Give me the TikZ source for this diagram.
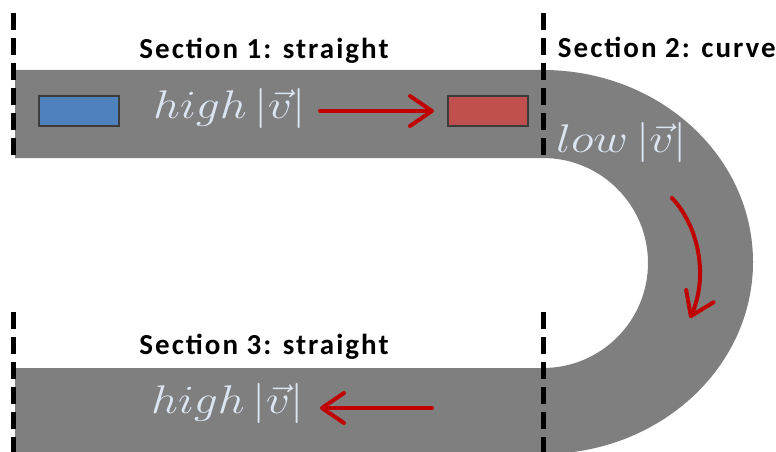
\documentclass[tikz,border=0pt]{standalone}
\usepackage{fix-cm}
\usepackage{fontspec}
\newfontfamily\labelfont[LetterSpace=7]{Carlito}
\usetikzlibrary{arrows.meta}

\definecolor{road}{RGB}{127,127,127}
\definecolor{speedtxt}{RGB}{220,230,242}
\definecolor{arrowred}{RGB}{192,0,0}
\definecolor{carblue}{RGB}{79,129,189}
\definecolor{carred}{RGB}{192,80,77}
\definecolor{carrim}{RGB}{60,60,60}

\newcommand{\speed}[1]{\scalebox{1.19}[1]{$#1\,|\vec{v}|$}}

\tikzset{
  boundary/.style={black, line width=5pt, dash pattern=on 17pt off 8pt},
  sectionlabel/.style={inner sep=0pt, font=\labelfont\bfseries\fontsize{29}{34}\selectfont},
  speedlabel/.style={anchor=base west, inner sep=0pt, text=speedtxt, font=\fontsize{40}{46}\selectfont},
  car/.style={draw=carrim, line width=2pt, minimum width=80pt, minimum height=30pt, inner sep=0pt},
  motion/.style={arrowred, line width=4pt, line cap=round,
    -{Straight Barb[length=22pt, width=30pt, line width=4pt, round]}}
}

\begin{document}
\begin{tikzpicture}[x=1pt, y=-1pt]
  \useasboundingbox (0,0) rectangle (776,452);
  \clip (0,0) rectangle (776,452);

  % the U-shaped road: two straights joined by a half turn
  \fill[road] (15,70) -- (543,70)
    arc[start angle=-90, end angle=90, x radius=210, y radius=192]
    -- (15,454) -- (15,368) -- (543,368)
    arc[start angle=90, end angle=-90, radius=105]
    -- (15,158) -- cycle;

  % section boundaries
  \coordinate (b1t) at (13,13);  \coordinate (b1b) at (13,158);
  \coordinate (b2t) at (543,13); \coordinate (b2b) at (543,158);
  \coordinate (b3t) at (13,312); \coordinate (b3b) at (13,452);
  \coordinate (b4t) at (543,312);\coordinate (b4b) at (543,452);
  \draw[boundary] (b1t) -- (b1b);
  \draw[boundary] (b2t) -- (b2b);
  \draw[boundary] (b3t) -- (b3b);
  \draw[boundary] (b4t) -- (b4b);

  % section titles
  \node[sectionlabel, anchor=base] (s1) at (264,59) {Section 1: straight};
  \node[sectionlabel, anchor=base east] (s2) at (776,58) {Section 2: curve};
  \node[sectionlabel, anchor=base] (s3) at (264,354) {Section 3: straight};

  % cars
  \node[car, fill=carblue] (carA) at (79,111) {};
  \node[car, fill=carred]  (carB) at (488,111) {};

  % speed annotations
  \node[speedlabel] (v1) at (153,118) {\speed{high}};
  \node[speedlabel] (v2) at (556,152) {\speed{low}};
  \node[speedlabel] (v3) at (151,413) {\speed{high}};

  % direction of travel
  \coordinate (a1s) at (320,111); \coordinate (a1e) at (434,111);
  \coordinate (a2s) at (672,198); \coordinate (a2e) at (690,318);
  \coordinate (a3s) at (432,408); \coordinate (a3e) at (320,408);
  \draw[motion] (a1s) -- (a1e);
  \draw[motion] (a2s) .. controls (700,228) and (708,278) .. (a2e);
  \draw[motion] (a3s) -- (a3e);
\end{tikzpicture}
\end{document}
